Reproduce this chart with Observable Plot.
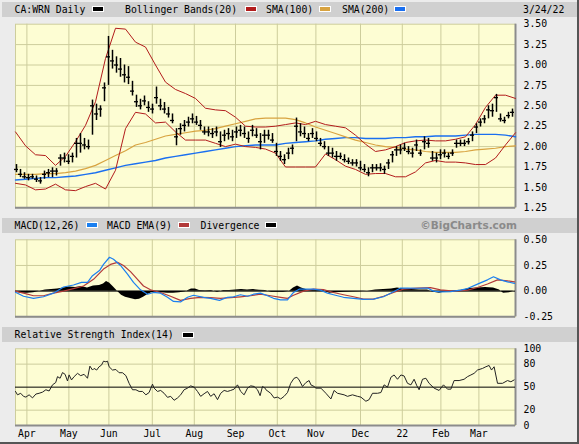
<!DOCTYPE html>
<html><head><meta charset="utf-8">
<script src="https://cdn.jsdelivr.net/npm/d3@7"></script>
<script src="https://cdn.jsdelivr.net/npm/@observablehq/plot@0.6"></script>
<style>
body{margin:0;background:#ececec;}
#wrap{position:relative;width:579px;height:444px;overflow:hidden;background:#ececec;font-family:"DejaVu Sans Mono",monospace;font-size:9.8px;color:#000;}
#edge{position:absolute;left:0;top:0;width:577px;height:442px;border-right:2px solid #555;border-bottom:2px solid #555;}
.bar{position:absolute;left:2px;width:575px;background:#d0d0d0;}
.lbl{position:absolute;white-space:pre;line-height:1;}
.sw{position:absolute;width:10px;height:4px;border:1px solid #fff;}
.plot{position:absolute;left:0;}
.bc{position:absolute;right:62px;top:219.5px;font-family:"DejaVu Sans",sans-serif;font-weight:bold;font-size:10.5px;color:#8a8a8a;line-height:1;}
</style></head><body><div id="wrap"><div id="edge"></div></div>
<script>
// ---------- data ----------
const monthPos = [5.7, 26.7, 46.7, 68.4, 89.4, 110, 130.9, 150.2, 172.5, 193.4, 212.7, 231.7];
const monthLabels = ["Apr","May","Jun","Jul","Aug","Sep","Oct","Nov","Dec","22","Feb","Mar"];

// daily bars, sampled every 2 trading days
const priceLow = [1.68,1.62,1.60,1.58,1.60,1.56,1.54,1.60,1.62,1.62,
1.64,1.76,1.80,1.78,1.80,1.86,1.92,1.96,1.96,2.14,
2.32,2.36,2.55,2.75,2.95,2.90,2.85,2.78,2.76,2.62,
2.48,2.45,2.50,2.42,2.40,2.52,2.44,2.40,2.35,2.28,
2.01,2.14,2.18,2.24,2.28,2.26,2.20,2.14,2.12,2.10,
2.12,1.99,2.06,2.08,2.06,2.10,2.12,2.10,2.04,2.12,
2.10,1.96,2.04,2.08,2.04,1.88,1.82,1.78,1.84,1.90,
2.06,2.12,2.10,2.06,2.10,2.06,2.00,1.96,1.88,1.86,
1.82,1.84,1.80,1.78,1.76,1.75,1.70,1.68,1.63,1.68,
1.70,1.69,1.66,1.72,1.80,1.88,1.90,1.94,1.90,1.86,
1.94,1.88,1.96,1.98,1.82,1.80,1.84,1.86,1.84,1.88,
1.98,2.00,2.00,2.02,2.06,2.16,2.24,2.28,2.34,2.36,
2.42,2.30,2.28,2.34,2.36];
const priceHigh = [1.78,1.72,1.68,1.66,1.66,1.64,1.62,1.70,1.72,1.74,
1.73,1.90,1.92,1.90,1.92,2.10,2.16,2.10,2.08,2.57,
2.52,2.50,2.78,3.35,3.18,3.10,3.08,3.00,2.98,2.80,
2.63,2.58,2.62,2.55,2.52,2.73,2.58,2.54,2.48,2.40,
2.22,2.28,2.32,2.36,2.40,2.37,2.32,2.24,2.24,2.22,
2.24,2.18,2.20,2.22,2.20,2.24,2.26,2.24,2.18,2.26,
2.22,2.16,2.20,2.20,2.16,2.04,1.94,1.90,1.98,2.02,
2.35,2.28,2.24,2.16,2.22,2.18,2.10,2.06,2.00,1.98,
1.94,1.92,1.90,1.86,1.84,1.84,1.82,1.78,1.74,1.78,
1.78,1.79,1.76,1.84,1.94,2.00,2.02,2.04,2.00,1.98,
2.08,1.96,2.12,2.10,1.94,1.92,1.96,1.96,1.92,1.96,
2.08,2.08,2.08,2.10,2.18,2.28,2.34,2.38,2.50,2.52,
2.64,2.40,2.36,2.42,2.46];
const priceClose = [1.72,1.66,1.63,1.62,1.63,1.60,1.58,1.66,1.68,1.70,
1.70,1.86,1.86,1.82,1.88,2.04,2.04,2.02,2.00,2.50,
2.40,2.46,2.72,3.10,3.05,3.00,2.95,2.88,2.85,2.68,
2.55,2.50,2.56,2.48,2.46,2.60,2.50,2.46,2.40,2.32,
2.12,2.22,2.26,2.30,2.34,2.30,2.26,2.18,2.18,2.16,
2.18,2.06,2.14,2.16,2.12,2.18,2.20,2.16,2.10,2.20,
2.14,2.06,2.14,2.14,2.08,1.94,1.88,1.84,1.92,1.98,
2.25,2.18,2.16,2.10,2.16,2.10,2.04,2.00,1.92,1.92,
1.88,1.88,1.84,1.82,1.80,1.80,1.74,1.72,1.68,1.74,
1.74,1.74,1.72,1.80,1.90,1.96,1.96,1.98,1.94,1.92,
2.02,1.92,2.06,2.04,1.86,1.86,1.90,1.92,1.88,1.92,
2.04,2.04,2.04,2.06,2.14,2.24,2.30,2.34,2.45,2.44,
2.60,2.34,2.32,2.38,2.42];

// indicator lines, sampled every 5 trading days
const bbUpper = [2.18,2.01,1.90,1.89,1.77,1.88,2.06,2.26,2.55,3.08,3.45,3.44,3.28,3.22,3.00,2.79,2.70,2.65,2.59,2.47,2.45,2.44,2.36,2.25,2.24,2.24,2.25,2.27,2.29,2.27,2.31,2.27,2.25,2.23,2.14,2.03,1.94,1.96,2.00,2.05,2.07,2.08,2.07,2.07,2.09,2.12,2.27,2.48,2.63,2.63,2.59];
const bbLower = [1.55,1.53,1.47,1.48,1.54,1.47,1.46,1.51,1.55,1.48,1.71,2.22,2.42,2.40,2.29,2.30,2.18,2.08,2.08,2.08,2.04,2.00,2.03,2.00,1.99,1.97,1.92,1.75,1.75,1.75,1.75,1.91,1.84,1.76,1.72,1.66,1.67,1.67,1.63,1.63,1.69,1.80,1.83,1.81,1.81,1.80,1.78,1.78,1.86,2.02,2.17];
const sma100 = [1.66,1.66,1.66,1.67,1.67,1.68,1.70,1.73,1.77,1.83,1.89,1.95,2.02,2.05,2.09,2.13,2.15,2.17,2.19,2.20,2.22,2.25,2.28,2.31,2.34,2.35,2.35,2.35,2.33,2.29,2.24,2.20,2.16,2.12,2.08,2.05,2.02,2.00,1.99,1.97,1.96,1.94,1.93,1.93,1.93,1.94,1.96,1.97,1.98,2.00,2.01];
const sma200 = [1.59,1.60,1.61,1.62,1.62,1.63,1.64,1.66,1.68,1.71,1.74,1.77,1.79,1.81,1.83,1.86,1.88,1.90,1.92,1.94,1.96,1.98,2.00,2.01,2.02,2.02,2.02,2.04,2.05,2.06,2.07,2.09,2.10,2.11,2.11,2.10,2.10,2.10,2.11,2.11,2.12,2.12,2.13,2.13,2.13,2.14,2.15,2.15,2.15,2.14,2.12];

// MACD
const macdDay = [0,4,9,14,19,24,29,33,36,38.5,42,44,47,49,52.5,56,59,62.5,66,69,72.5,76,79,82.5,86,89,94,97.5,102,106,109,112.5,116,119,122.5,126,129,132.5,136,139,142,149,152.5,156,159,164,169,174,179,184,189,192.5,196,201,206,209,212.5,217.5,222.5,226,231,236,239,242.5,246,249.5];
const macdVal = [-0.01,-0.05,-0.07,-0.055,-0.02,0.04,0.06,0.085,0.085,0.15,0.2,0.26,0.33,0.31,0.25,0.165,0.085,0.013,-0.03,-0.013,-0.02,-0.06,-0.1,-0.105,-0.06,-0.04,-0.06,-0.07,-0.09,-0.06,-0.055,-0.035,-0.05,-0.03,-0.02,-0.045,-0.07,-0.085,-0.085,-0.013,0.02,0.02,0.01,-0.02,-0.035,-0.06,-0.07,-0.08,-0.078,-0.055,-0.006,0.03,0.03,0.028,0.03,0.0,-0.008,-0.005,0.01,0.025,0.068,0.11,0.14,0.11,0.09,0.075];
const sigDay = [0,4,9,14,19,24,29,34,39,44,47.5,51,54,57.5,61,64,67.5,72.5,77.5,82.5,87.5,92.5,97.5,102.5,107.5,112.5,117.5,122.5,127.5,132.5,136,139,144,149,154,159,164,169,174,179,184,189,194,201,207.5,212.5,219,226,231,236,241,246,249.5];
const sigVal = [0.0,-0.02,-0.045,-0.045,-0.02,0.0,0.025,0.05,0.115,0.215,0.26,0.28,0.25,0.19,0.115,0.05,0.013,-0.013,-0.05,-0.09,-0.07,-0.06,-0.063,-0.07,-0.063,-0.055,-0.045,-0.03,-0.045,-0.06,-0.07,-0.04,0.0,0.02,0.015,-0.013,-0.035,-0.055,-0.078,-0.078,-0.05,-0.013,0.02,0.03,0.035,0.013,0.0,0.01,0.035,0.07,0.11,0.1,0.09];
const divDay = [0,3,6,9,12,15,18,21,24,27,30,33,36,39,42,44,45.5,47,49,51,53,55,58,60,62,64,66,68,70,73,76,79,82,85,88,90,92,95,98,101,104,107,110,113,116,119,122,125,128,131,134,137,139,141,143,146,150,154,157,160,164,168,172,176,180,184,188,191,194,198,202,206,209,212,215,219,223,227,231,235,239,242,244,247,249];
const divVal = [-0.01,-0.02,-0.02,-0.015,0.0,0.01,0.015,0.02,0.03,0.04,0.035,0.045,0.03,0.05,0.055,0.07,0.095,0.08,0.04,0.0,-0.04,-0.06,-0.075,-0.085,-0.08,-0.06,-0.035,-0.015,-0.01,-0.015,-0.02,-0.02,-0.015,-0.005,0.02,0.02,0.005,0.003,0.005,-0.01,0.005,0.005,0.01,0.015,0.01,0.015,0.008,0.005,-0.01,-0.012,-0.01,0.0,0.03,0.05,0.03,0.01,0.008,0.005,-0.02,-0.015,-0.01,-0.008,-0.005,0.0,0.01,0.015,0.02,0.03,0.02,0.015,0.01,0.01,-0.01,-0.02,-0.005,0.003,0.008,0.025,0.03,0.035,0.03,0.01,-0.02,-0.015,0.0];

// RSI(14)
const rsiDay = [0,1,2.6,4,5.2,6.8,8.5,10.2,11.8,13.5,15.2,16.8,18.5,20.1,21,22.3,23.5,24.8,26,26.8,28,29.3,31,32.6,34.3,36,37.2,38.5,39.3,40.6,41.8,43,44,45.2,46,46.8,48.5,50.2,51.8,53.5,55.2,56.8,58.5,60.2,61.8,63.5,65.2,66.8,68.5,69.3,71,72.6,74.3,76,77.6,79.3,81,82.6,84.3,86,87.6,89.3,91,92.6,94.3,96,97.6,99.3,101,102.6,104.3,106,107.6,109.3,111,112.6,114.3,116,117.6,119.3,121,122.3,123.5,124.8,125.2,127.6,129.3,131,132.6,134.3,136,137.6,139.3,140.7,141.8,143.5,145.2,146.8,147.7,149.3,150.2,152.7,155.2,157.7,159.3,161,164.3,166,168.5,171,172.7,175.2,176.8,178.5,181,182.7,184.3,186,187.7,189.3,191,192.7,194.3,196,197.7,199.3,200.7,201.8,203.5,205.2,206.8,209.3,211.8,214,216,217.7,219.3,221.8,224.3,226,227.7,229.3,231,233.5,235.2,236.8,238,239.3,241,243.5,246,247.7,249.3];
const rsiVal = [44.4,40,42,38,37,40,36,41,42,43.5,46.6,45,53,56,63.7,61.6,69,66.7,58,66,59.4,63.7,68,65,66.7,61.6,77.4,72.3,74.4,72.3,76.6,78.7,83.9,83,83.9,76.6,72.3,73,68.8,68.8,65,55,46.6,46.6,44.4,44.4,40,43,53.9,48.7,44.4,45.7,42,36.7,38,32.9,35.9,40,46.6,48.7,51.7,50,44.4,38,41.4,44.4,38,41.4,33.7,42,45.7,44.4,45.7,47.4,53,44.4,40,48.7,51.7,50.9,46.6,38.9,50.9,48.7,46.6,42,35.9,37,34.6,38,43,55,61.6,62.9,59.4,50.9,56,58.6,53,50.9,48.7,48.7,42,34.6,45.7,42,40,38,40,38,37,31.6,33.7,42,42,43,53,50,62.9,65.9,60.3,65.9,64.6,55,53,60.3,51.7,46.6,60.3,61.6,55,48.7,45.7,53,47.4,47.4,58.6,58.6,60.3,63.7,65.9,68,72.3,74.4,76.6,78.3,72.3,76.6,55,55,58.6,57,59.4];

// ---------- build tables ----------
const bars = priceLow.map((lo, k) => ({day: 2 * k + 0.5, lo, hi: priceHigh[k], close: priceClose[k]}));
const lineDays = d3.range(0, 251, 5);
const bands = lineDays.map((d, k) => ({d, up: bbUpper[k], lo: bbLower[k], s100: sma100[k], s200: sma200[k]}));
const macd = macdDay.map((d, k) => ({d, v: macdVal[k]}));
const sig = sigDay.map((d, k) => ({d, v: sigVal[k]}));
const dv = divDay.map((d, k) => ({d, v: divVal[k]}));
const rsi = rsiDay.map((d, k) => ({d, v: rsiVal[k]}));
const monthMap = new Map(monthPos.map((p, i) => [p, monthLabels[i]]));

const GRID = "#cdcd9c", BG = "#fdfdd3", EDGE = "#8c8c8c";
const style = {fontFamily: "DejaVu Sans Mono, monospace", fontSize: "9.8px", color: "#000", background: "transparent", overflow: "visible"};
const xOpt = {domain: [0, 250], axis: null};

function place(svg, top) {
  svg.classList.add("plot");
  svg.style.top = top + "px";
  document.getElementById("wrap").appendChild(svg);
}

// ---------- price panel ----------
const priceTicks = d3.range(1.25, 3.51, 0.25);
place(Plot.plot({
  width: 579, height: 215, marginLeft: 15, marginRight: 64, marginTop: 23.7, marginBottom: 7.7,
  x: xOpt, y: {domain: [1.25, 3.5], axis: null}, style,
  marks: [
    Plot.frame({fill: BG, stroke: GRID}),
    Plot.ruleX(monthPos, {stroke: GRID}),
    Plot.ruleY(priceTicks.slice(1, -1), {stroke: GRID}),
    Plot.ruleX([250], {stroke: EDGE, strokeWidth: 2}),
    Plot.ruleY([1.25], {stroke: EDGE, strokeWidth: 2}),
    Plot.axisY({anchor: "right", label: null, ticks: priceTicks, tickSize: 0, tickPadding: 8, tickFormat: d => d.toFixed(2)}),
    Plot.line(bands, {x: "d", y: "s200", stroke: "#1a6ff0", strokeWidth: 1.4}),
    Plot.line(bands, {x: "d", y: "s100", stroke: "#d8a340", strokeWidth: 1.2}),
    Plot.line(bands, {x: "d", y: "up", stroke: "#b21c1c", strokeWidth: 1}),
    Plot.line(bands, {x: "d", y: "lo", stroke: "#b21c1c", strokeWidth: 1}),
    Plot.ruleX(bars, {x: "day", y1: "lo", y2: "hi", stroke: "#000", strokeWidth: 1.5}),
    Plot.ruleY(bars, {y: "close", x1: d => d.day - 1, x2: d => d.day + 1, stroke: "#000", strokeWidth: 1.3})
  ]
}), 0);

// ---------- MACD panel ----------
place(Plot.plot({
  width: 579, height: 90, marginLeft: 15, marginRight: 64, marginTop: 6.3, marginBottom: 6.7,
  x: xOpt, y: {domain: [-0.25, 0.5], axis: null}, style,
  marks: [
    Plot.frame({fill: BG, stroke: GRID}),
    Plot.ruleX(monthPos, {stroke: GRID}),
    Plot.ruleY([0.25], {stroke: GRID}),
    Plot.ruleX([250], {stroke: EDGE, strokeWidth: 2}),
    Plot.ruleY([-0.25], {stroke: EDGE, strokeWidth: 2}),
    Plot.axisY({anchor: "right", label: null, ticks: [-0.25, 0, 0.25, 0.5], tickSize: 0, tickPadding: 8, tickFormat: d => d.toFixed(2)}),
    Plot.areaY(dv, {x: "d", y: "v", fill: "#000"}),
    Plot.ruleY([0], {stroke: "#000", strokeWidth: 1}),
    Plot.line(sig, {x: "d", y: "v", stroke: "#b23a3a", strokeWidth: 1.2}),
    Plot.line(macd, {x: "d", y: "v", stroke: "#1a7ff0", strokeWidth: 1.2})
  ]
}), 233);

// ---------- RSI panel ----------
place(Plot.plot({
  width: 579, height: 102, marginLeft: 15, marginRight: 64, marginTop: 6.3, marginBottom: 19,
  x: xOpt, y: {domain: [0, 100], axis: null}, style,
  marks: [
    Plot.frame({fill: BG, stroke: GRID}),
    Plot.ruleX(monthPos, {stroke: GRID}),
    Plot.ruleY([20, 80], {stroke: GRID}),
    Plot.ruleX([250], {stroke: EDGE, strokeWidth: 2}),
    Plot.ruleY([0], {stroke: EDGE, strokeWidth: 2}),
    Plot.axisY({anchor: "right", label: null, ticks: [0, 20, 50, 80, 100], tickSize: 0, tickPadding: 8}),
    Plot.axisX({anchor: "bottom", label: null, ticks: monthPos, tickSize: 0, tickPadding: 5, tickFormat: d => monthMap.get(d)}),
    Plot.ruleY([50], {stroke: "#000", strokeWidth: 1}),
    Plot.line(rsi, {x: "d", y: "v", stroke: "#222", strokeWidth: 1})
  ]
}), 342);

// ---------- header bars (HTML) ----------
const wrap = document.getElementById("wrap");
function el(cls, css, text) {
  const e = document.createElement("div");
  e.className = cls;
  Object.assign(e.style, css);
  if (text) e.textContent = text;
  wrap.insertBefore(e, wrap.querySelector("svg"));
  return e;
}
el("bar", {top: "1.7px", height: "15px"});
el("bar", {top: "217.7px", height: "15px"});
el("bar", {top: "327.3px", height: "14.4px"});
const headers = [
  {top: 4.8, items: [["t", 14.5, "CA:WRN Daily"], ["s", 92, "#000"], ["t", 125, "Bollinger Bands(20)"], ["s", 245, "#b21c1c"], ["t", 266, "SMA(100)"], ["s", 319, "#d8a340"], ["t", 342, "SMA(200)"], ["s", 394, "#1a6ff0"], ["t", 523, "3/24/22"]]},
  {top: 220.8, items: [["t", 14.5, "MACD(12,26)"], ["s", 86, "#1a7ff0"], ["t", 107, "MACD EMA(9)"], ["s", 178, "#b23a3a"], ["t", 200.5, "Divergence"], ["s", 265, "#000"]]},
  {top: 330.3, items: [["t", 14.5, "Relative Strength Index(14)"], ["s", 182, "#000"]]}
];
for (const h of headers) {
  for (const [kind, x, v] of h.items) {
    if (kind === "t") el("lbl", {left: x + "px", top: h.top + "px"}, v);
    else el("sw", {left: x + "px", top: (h.top + 1.6) + "px", background: v});
  }
}
el("bc", {}, "©BigCharts.com");
</script></body></html>
